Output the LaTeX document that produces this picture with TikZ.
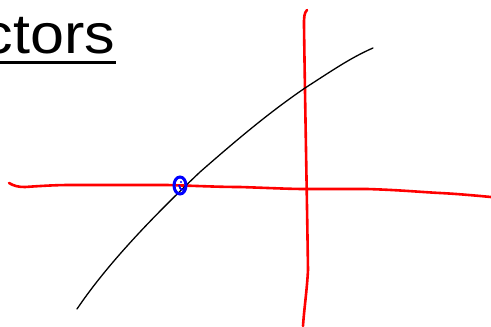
\documentclass[tikz,border=0pt]{standalone}
\usepackage{fontspec}
\setmainfont{Liberation Sans}
\begin{document}
\begin{tikzpicture}[x=1pt,y=-1pt,
  axis/.style={red,line width=2.6pt,line cap=round,line join=round},
  curveline/.style={black,line width=1.3pt,line cap=round},
  mark point/.style={blue,line width=3pt}]
\useasboundingbox (0,0) rectangle (491,327);
\node[anchor=base west,inner sep=0pt,font=\fontsize{56}{64}\selectfont] (title) at (-17.5,53) {\scalebox{1.09}[1]{ctors}};
\fill (0,60.5) rectangle (116,63.5);
% horizontal axis
\draw[axis] (9,183) .. controls (14,186) and (18,187) .. (25,187)
  .. controls (40,186) and (55,185) .. (70,185)
  -- (167,185) .. controls (200,186) and (220,187) .. (240,187)
  .. controls (270,188) and (290,189) .. (305,189)
  -- (367,189) .. controls (400,190) and (420,192) .. (440,193)
  .. controls (460,194) and (480,196) .. (491,197);
% vertical axis
\draw[axis] (307,10) .. controls (304,13) and (304,18) .. (304,25)
  .. controls (305,100) and (307,200) .. (308,270)
  .. controls (307,290) and (304,310) .. (303,326);
% curve
\draw[curveline] (77,309) .. controls (110,260) and (160,210) .. (200,172)
  .. controls (240,137) and (270,112) .. (305,88)
  .. controls (330,72) and (350,58) .. (373,48);
% blue mark
\draw[mark point] (180,185.5) ellipse (6 and 8.5);
\draw[blue,line width=1.8pt] (179,185) .. controls (180,191) and (184,191) .. (186,187);
\fill[blue] (181,182) circle (1.2);
\end{tikzpicture}
\end{document}
